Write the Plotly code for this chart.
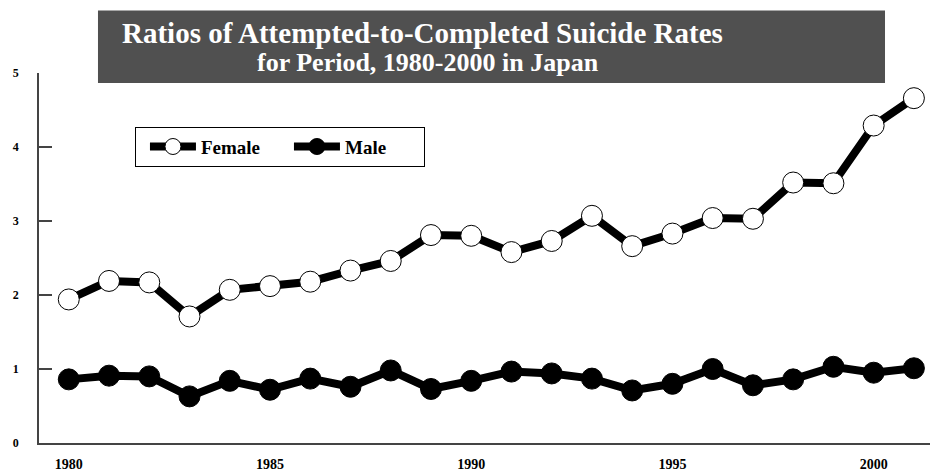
import plotly.graph_objects as go

# Attempted-to-completed suicide rate ratios, Japan
years = list(range(1980, 2002))
female = [1.94, 2.19, 2.17, 1.71, 2.07, 2.12, 2.18, 2.33, 2.46, 2.81, 2.80,
          2.58, 2.73, 3.07, 2.66, 2.83, 3.04, 3.03, 3.52, 3.51, 4.29, 4.66]
male = [0.86, 0.91, 0.90, 0.63, 0.84, 0.72, 0.87, 0.76, 0.98, 0.73, 0.84,
        0.965, 0.94, 0.87, 0.71, 0.80, 1.00, 0.78, 0.86, 1.03, 0.95, 1.01]

x_ticks = [1980, 1985, 1990, 1995, 2000]
y_ticks = [0, 1, 2, 3, 4, 5]

title_main = "Ratios of Attempted-to-Completed Suicide Rates"
title_sub = "for Period, 1980-2000 in Japan"

SERIF = "Liberation Serif"

fig = go.Figure()
fig.add_trace(go.Scatter(
    x=years, y=female, name="Female", mode="lines+markers",
    line=dict(color="black", width=8),
    marker=dict(size=21, color="white", line=dict(color="black", width=1)),
    cliponaxis=False,
))
fig.add_trace(go.Scatter(
    x=years, y=male, name="Male", mode="lines+markers",
    line=dict(color="black", width=8),
    marker=dict(size=21, color="black", line=dict(color="black", width=1)),
    cliponaxis=False,
))

# dark title banner
fig.add_shape(type="rect", xref="paper", yref="paper",
              x0=0.0662, x1=0.9495, y0=0.973, y1=1.169,
              fillcolor="#505050", line=dict(width=0), layer="below")
fig.add_annotation(text=title_main, xref="paper", yref="paper",
                   x=0.4309, y=1.107, xanchor="center", yanchor="middle",
                   showarrow=False,
                   font=dict(family=SERIF, size=29, color="white", weight="bold"))
fig.add_annotation(text=title_sub, xref="paper", yref="paper",
                   x=0.4366, y=1.029, xanchor="center", yanchor="middle",
                   showarrow=False,
                   font=dict(family=SERIF, size=26, color="white", weight="bold"))

fig.update_layout(
    width=930, height=472,
    margin=dict(l=39, r=0, t=73, b=26),
    paper_bgcolor="white", plot_bgcolor="white",
    showlegend=True,
    legend=dict(
        orientation="h", x=0.1077, y=0.855, xanchor="left", yanchor="top",
        bordercolor="black", borderwidth=1, bgcolor="white",
        font=dict(family=SERIF, size=19, color="black", weight="bold"),
        entrywidth=74, indentation=9, itemwidth=46,
    ),
    xaxis=dict(
        range=[1979.26, 2001.40], tickvals=x_ticks,
        showgrid=False, zeroline=False, showline=True,
        linecolor="#444444", linewidth=1.5, ticks="",
        tickfont=dict(family=SERIF, size=14, color="black", weight="bold"),
        ticklabelstandoff=7,
    ),
    yaxis=dict(
        range=[0, 5], tickvals=y_ticks,
        showgrid=False, zeroline=False, showline=True,
        linecolor="#444444", linewidth=1.5,
        ticks="inside", ticklen=13, tickcolor="#444444", tickwidth=1.5,
        tickfont=dict(family=SERIF, size=12, color="black", weight="bold"),
        ticklabelstandoff=16,
    ),
)

fig.write_html("out.html")
